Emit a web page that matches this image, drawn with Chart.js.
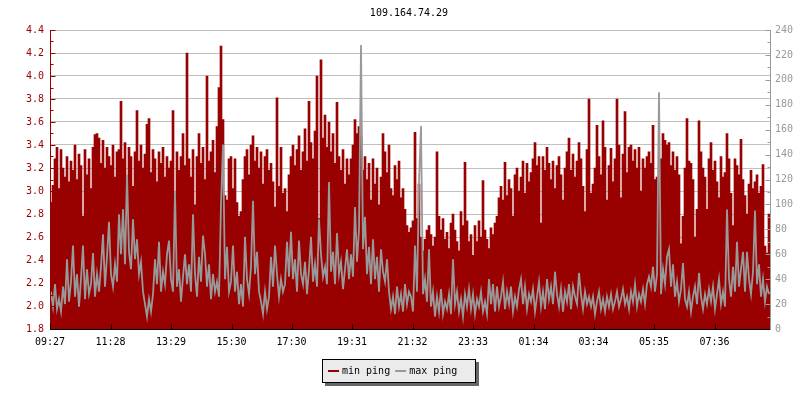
<!DOCTYPE html>
<html lang="en">
<head>
<meta charset="UTF-8">
<title>109.164.74.29</title>
<script src="https://cdn.jsdelivr.net/npm/chart.js"></script>
<style>
    body {
        margin: 0;
        padding: 0;
        background-color: #fff;
    }
    #pingChart {
        display: block;
    }
</style>
</head>
<body>
<canvas id="pingChart" width="800" height="400"></canvas>

<script>
    var chartTitle = '109.164.74.29';

    // x axis: minutes since 09:27, one sample every 4 minutes over 24h
    var tickTimes = ['09:27', '11:28', '13:29', '15:30', '17:30', '19:31', '21:32', '23:33', '01:34', '03:34', '05:35', '07:36'];
    var tickMinutes = [0, 121, 242, 363, 483, 604, 725, 846, 967, 1087, 1208, 1329];
    var stepMinutes = 4;

    // min ping (left axis)
    var minPing = [
        2.90, 3.05, 3.28, 3.38, 3.02, 3.36, 3.20, 3.12, 3.30, 3.08, 3.26, 3.18, 3.40, 3.10, 3.32, 3.22, 2.78, 3.36, 3.14, 3.28, 3.02, 3.38, 3.49, 3.50, 3.46, 3.24, 3.44, 3.20, 3.38, 3.30,
        3.22, 3.40, 3.12, 3.34, 3.36, 3.78, 3.28, 3.42, 3.10, 3.38, 3.30, 3.04, 3.34, 3.70, 3.26, 3.40, 3.20, 3.32, 3.58, 3.63, 3.16, 3.36, 3.28, 3.08, 3.34, 3.24, 3.38, 3.12, 3.30, 3.20,
        3.26, 3.70, 2.97, 3.34, 3.18, 3.30, 3.50, 3.22, 4.20, 3.28, 3.12, 3.36, 2.88, 3.30, 3.50, 3.24, 3.38, 3.10, 4.00, 3.26, 3.34, 3.44, 3.16, 3.56, 3.90, 4.26, 3.62, 2.96, 2.92, 3.28,
        3.30, 3.02, 3.28, 2.90, 2.78, 2.82, 3.10, 3.30, 3.36, 3.14, 3.40, 3.48, 3.26, 3.38, 3.20, 3.34, 3.06, 3.30, 3.36, 3.18, 3.24, 3.08, 2.86, 3.81, 3.04, 3.38, 2.98, 3.02, 2.82, 3.14,
        3.30, 3.40, 3.22, 3.36, 3.48, 3.18, 3.34, 3.54, 3.26, 3.78, 3.42, 3.28, 3.52, 4.00, 2.76, 4.14, 3.46, 3.66, 3.38, 3.60, 3.34, 3.50, 3.24, 3.77, 3.30, 3.18, 3.36, 3.06, 3.28, 3.14,
        3.28, 3.40, 3.62, 3.50, 3.56, 3.48, 3.18, 3.30, 3.10, 3.24, 2.92, 3.28, 3.06, 3.20, 2.88, 3.12, 3.50, 3.34, 3.16, 3.40, 3.02, 2.96, 3.22, 3.10, 3.26, 2.94, 3.02, 2.84, 2.70, 2.64,
        2.68, 2.74, 3.51, 2.76, 3.06, 2.60, 2.48, 2.58, 2.66, 2.70, 2.62, 2.52, 2.60, 3.34, 2.78, 2.66, 2.76, 2.58, 2.64, 2.50, 2.72, 2.80, 2.66, 2.56, 2.48, 2.82, 2.70, 3.25, 2.74, 2.56,
        2.62, 2.44, 2.70, 2.56, 2.74, 2.60, 3.09, 2.66, 2.58, 2.50, 2.68, 2.62, 2.72, 2.78, 2.94, 3.04, 2.92, 3.25, 2.96, 3.10, 3.02, 2.78, 3.14, 3.20, 3.00, 3.12, 3.26, 2.98, 3.24, 3.08,
        3.16, 3.28, 3.42, 3.22, 3.30, 2.72, 3.30, 3.18, 3.38, 3.24, 3.10, 3.26, 3.02, 3.22, 3.30, 3.14, 2.92, 3.20, 3.34, 3.46, 3.18, 3.32, 3.12, 3.26, 3.42, 3.28, 3.04, 2.82, 3.36, 3.80,
        2.98, 3.06, 3.20, 3.57, 3.30, 3.14, 3.61, 3.38, 2.92, 3.22, 3.37, 3.08, 3.28, 3.80, 3.40, 2.94, 3.32, 3.69, 3.16, 3.38, 3.40, 3.26, 3.36, 3.20, 3.38, 3.00, 3.28, 3.20, 3.30, 3.34,
        3.24, 3.57, 3.10, 3.12, 3.08, 3.28, 3.50, 3.44, 3.40, 3.42, 3.22, 3.34, 3.18, 3.30, 3.14, 2.54, 2.78, 3.20, 3.63, 3.26, 3.24, 3.10, 2.60, 2.84, 3.61, 3.34, 3.20, 3.12, 2.84, 3.28,
        3.42, 3.18, 3.26, 3.08, 2.94, 3.30, 3.12, 3.16, 3.50, 3.28, 2.98, 2.70, 3.28, 3.22, 3.14, 3.45, 3.10, 2.96, 2.80, 3.06, 3.18, 3.02, 3.08, 3.14, 2.98, 3.04, 3.23, 2.52, 2.46, 2.80
    ];

    // max ping (right axis)
    var maxPing = [
        30, 18, 36, 16, 24, 14, 34, 20, 56, 22, 38, 67, 26, 44, 18, 40, 67, 24, 48, 28, 36, 61, 26, 44, 30, 50, 76, 34, 58, 86,
        44, 34, 52, 38, 92, 60, 96, 52, 124, 62, 48, 88, 56, 72, 44, 54, 30, 20, 10, 24, 14, 28, 56, 36, 70, 30, 46, 36, 60, 71,
        40, 30, 110, 34, 48, 22, 42, 60, 36, 52, 30, 92, 44, 26, 58, 38, 75, 60, 34, 52, 24, 44, 30, 38, 26, 100, 148, 40, 66, 30,
        38, 67, 30, 46, 20, 36, 18, 74, 40, 28, 50, 103, 44, 62, 30, 22, 12, 30, 16, 26, 58, 34, 67, 44, 26, 40, 30, 36, 70, 42,
        78, 40, 56, 30, 71, 44, 36, 54, 28, 48, 74, 38, 52, 34, 88, 60, 42, 50, 36, 118, 46, 62, 36, 77, 44, 54, 32, 48, 64, 40,
        60, 42, 98, 54, 80, 228, 64, 90, 44, 66, 36, 72, 40, 58, 30, 64, 46, 38, 56, 30, 16, 26, 12, 34, 18, 28, 14, 36, 20, 30,
        26, 14, 67, 30, 118, 163, 28, 40, 22, 64, 18, 30, 10, 26, 14, 32, 12, 22, 16, 28, 12, 56, 20, 30, 14, 24, 10, 28, 18, 32,
        16, 28, 12, 24, 18, 30, 14, 22, 12, 40, 20, 36, 14, 34, 18, 26, 38, 16, 30, 20, 34, 14, 26, 18, 32, 40, 20, 34, 16, 28,
        22, 32, 14, 26, 38, 18, 30, 16, 40, 24, 34, 20, 46, 28, 18, 32, 14, 30, 22, 36, 16, 34, 26, 20, 45, 28, 16, 30, 20, 26,
        18, 26, 12, 22, 30, 16, 24, 14, 26, 18, 28, 16, 22, 30, 18, 24, 32, 20, 26, 16, 30, 22, 36, 18, 28, 22, 32, 20, 36, 42,
        34, 50, 30, 44, 190, 28, 48, 36, 58, 64, 34, 52, 26, 38, 22, 32, 53, 24, 18, 30, 14, 26, 34, 20, 45, 26, 16, 28, 20, 32,
        22, 34, 16, 28, 40, 20, 30, 18, 96, 40, 26, 50, 30, 70, 34, 48, 62, 30, 62, 40, 28, 46, 95, 36, 52, 26, 40, 22, 34, 28
    ];

    var minColor = '#990000';
    var maxColor = '#999999';
    var fontFamily = "'DejaVu Sans Mono', monospace";

    // each sample sits in the middle of its 4 minute slot
    function toPoints(values) {
        return values.map(function(v, i) {
            return { x: i * stepMinutes + stepMinutes / 2, y: v };
        });
    }

    // title, inward tick marks on the axes, and the boxed legend
    var decorations = {
        id: 'decorations',
        afterDraw: function(chart) {
            var ctx = chart.ctx;
            var area = chart.chartArea;
            var sc = chart.scales;
            ctx.save();

            ctx.font = '10px ' + fontFamily;
            ctx.fillStyle = '#000';
            ctx.textAlign = 'center';
            ctx.textBaseline = 'middle';
            ctx.fillText(chartTitle, (area.left + area.right) / 2 - 1, 13);

            ctx.lineWidth = 1;

            function yTicks(scale, x, dir, color) {
                ctx.strokeStyle = color;
                ctx.beginPath();
                ctx.moveTo(x, area.top);
                ctx.lineTo(x, area.bottom + 1);
                var t = scale.ticks;
                for (var i = 0; i < t.length; i++) {
                    var py = Math.round(scale.getPixelForValue(t[i].value)) + 0.5;
                    ctx.moveTo(x, py);
                    ctx.lineTo(x + dir * 5, py);
                    if (i < t.length - 1) {
                        var my = Math.round(scale.getPixelForValue((t[i].value + t[i + 1].value) / 2)) + 0.5;
                        ctx.moveTo(x, my);
                        ctx.lineTo(x + dir * 3, my);
                    }
                }
                ctx.stroke();
            }
            yTicks(sc.y, area.left + 0.5, 1, minColor);
            yTicks(sc.y1, area.right + 0.5, -1, maxColor);

            ctx.strokeStyle = '#000';
            ctx.beginPath();
            var by = area.bottom + 0.5;
            ctx.moveTo(area.left, by);
            ctx.lineTo(area.right, by);
            sc.x.ticks.forEach(function(t) {
                var px = Math.round(sc.x.getPixelForValue(t.value)) + 0.5;
                ctx.moveTo(px, by);
                ctx.lineTo(px, by - 5);
            });
            ctx.stroke();

            // legend box with drop shadow
            var boxX = 322, boxY = 359, boxW = 154, boxH = 24;
            ctx.fillStyle = '#666666';
            ctx.fillRect(boxX + 3, boxY + 3, boxW, boxH);
            ctx.fillStyle = '#ebebeb';
            ctx.fillRect(boxX, boxY, boxW, boxH);
            ctx.strokeStyle = '#000';
            ctx.strokeRect(boxX + 0.5, boxY + 0.5, boxW - 1, boxH - 1);

            var cy = boxY + 12;
            var lx = boxX + 6;
            ctx.textAlign = 'left';
            chart.data.datasets.forEach(function(ds) {
                ctx.strokeStyle = ds.borderColor || ds.backgroundColor;
                ctx.lineWidth = 2;
                ctx.beginPath();
                ctx.moveTo(lx, cy);
                ctx.lineTo(lx + 11, cy);
                ctx.stroke();
                ctx.fillStyle = '#000';
                ctx.fillText(ds.label, lx + 14, cy);
                lx += 14 + ctx.measureText(ds.label).width + 5;
            });

            ctx.restore();
        }
    };

    var ctx = document.getElementById('pingChart').getContext('2d');
    var pingChart = new Chart(ctx, {
        type: 'bar',
        data: {
            datasets: [{
                type: 'bar',
                label: 'min ping',
                data: toPoints(minPing),
                yAxisID: 'y',
                backgroundColor: minColor,
                borderColor: minColor,
                borderWidth: 0,
                barPercentage: 1,
                categoryPercentage: 1,
                order: 2
            }, {
                type: 'line',
                label: 'max ping',
                data: toPoints(maxPing),
                yAxisID: 'y1',
                borderColor: maxColor,
                backgroundColor: maxColor,
                borderWidth: 1.8,
                pointRadius: 0,
                tension: 0,
                order: 1
            }]
        },
        options: {
            responsive: false,
            animation: false,
            devicePixelRatio: 1,
            layout: { padding: { top: 30, left: 0, right: 0, bottom: 0 } },
            plugins: {
                legend: { display: false },
                title: { display: false },
                tooltip: { enabled: false }
            },
            scales: {
                x: {
                    type: 'linear',
                    min: 0,
                    max: 1440,
                    offset: false,
                    grid: { display: false, drawTicks: false },
                    border: { display: false },
                    afterBuildTicks: function(scale) {
                        scale.ticks = tickMinutes.map(function(m) { return { value: m }; });
                    },
                    afterFit: function(scale) { scale.height = 71; },
                    ticks: {
                        color: '#000',
                        padding: 7,
                        autoSkip: false,
                        maxRotation: 0,
                        font: { family: fontFamily, size: 10 },
                        callback: function(value, index) { return tickTimes[index]; }
                    }
                },
                y: {
                    position: 'left',
                    min: 1.8,
                    max: 4.4,
                    grid: { color: '#c0c0c0', drawTicks: false },
                    border: { display: false },
                    afterFit: function(scale) { scale.width = 50; },
                    ticks: {
                        stepSize: 0.2,
                        color: minColor,
                        padding: 6,
                        font: { family: fontFamily, size: 10 },
                        callback: function(value) { return value.toFixed(1); }
                    }
                },
                y1: {
                    position: 'right',
                    min: 0,
                    max: 240,
                    grid: { display: false, drawTicks: false },
                    border: { display: false },
                    afterFit: function(scale) { scale.width = 30; },
                    ticks: {
                        stepSize: 20,
                        color: maxColor,
                        padding: 5,
                        font: { family: fontFamily, size: 10 }
                    }
                }
            }
        },
        plugins: [decorations]
    });
</script>
</body>
</html>
